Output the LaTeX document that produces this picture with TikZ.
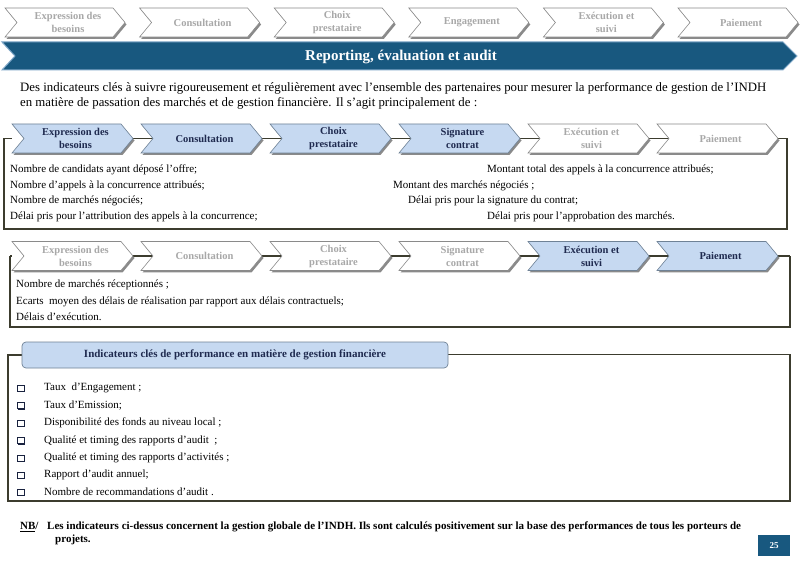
\documentclass[tikz,border=0pt]{standalone}
\usepackage{fontspec}
\setmainfont{Liberation Serif}
\definecolor{boxc}{HTML}{3C3C2E}
\definecolor{actfill}{HTML}{C6D9F1}
\definecolor{actdraw}{HTML}{6F8296}
\definecolor{acttext}{HTML}{1F2A4F}
\definecolor{inactdraw}{HTML}{8A8A8A}
\definecolor{inacttext}{HTML}{A8A8A8}
\definecolor{bannerc}{HTML}{18587F}
\definecolor{bannerline}{HTML}{7FA7C8}
\definecolor{shadowc}{HTML}{8A8A8A}
\newcommand\mychev[8]{%
  \fill[shadowc] ({#2+1.5},{#3+2}) -- ({#2+#4-12+1.5},{#3+2}) -- ({#2+#4+1.5},{#3+#5/2+2}) -- ({#2+#4-12+1.5},{#3+#5+2}) -- ({#2+1.5},{#3+#5+2}) -- ({#2+12+1.5},{#3+#5/2+2}) -- cycle;
  \draw[#6] (#2,#3) -- ({#2+#4-12},#3) -- ({#2+#4},{#3+#5/2}) -- ({#2+#4-12},{#3+#5}) -- (#2,{#3+#5}) -- ({#2+12},{#3+#5/2}) -- cycle;
  \coordinate (#1-in) at ({#2+12},{#3+#5/2});
  \coordinate (#1-out) at ({#2+#4},{#3+#5/2});
  \node[#8] (#1) at ({#2+#4/2+3},{#3+#5/2}) {#7};
}
\tikzset{
  chevact/.style={fill=actfill, draw=actdraw, line width=0.6pt},
  chevinact/.style={fill=white, draw=inactdraw, line width=0.6pt},
  tact/.style={align=center, inner sep=0pt, text=acttext, font=\fontsize{10.5}{13}\selectfont\bfseries},
  tinact/.style={align=center, inner sep=0pt, text=inacttext, font=\fontsize{10.5}{13}\selectfont\bfseries},
  boxline/.style={draw=boxc, line width=1.8pt},
  body/.style={anchor=west, inner sep=0pt, font=\fontsize{11}{13}\selectfont},
  para/.style={anchor=west, inner sep=0pt, font=\fontsize{12.8}{15}\selectfont},
  nbtext/.style={anchor=west, inner sep=0pt, font=\fontsize{11}{13}\selectfont\bfseries},
  bul/.style={draw=acttext!80!black, line width=0.7pt},
}
\begin{document}
\begin{tikzpicture}[x=1pt,y=-1pt]
\useasboundingbox (0,0) rectangle (800,561);
\fill[white] (0,0) rectangle (800,561);

% Row 1 chevrons
\mychev{a1}{5}{8}{120}{29}{chevinact}{Expression des\\besoins}{tinact}
\mychev{a2}{139.6}{8}{120}{29}{chevinact}{Consultation}{tinact}
\mychev{a3}{274.2}{8}{120}{29}{chevinact}{Choix\\prestataire}{tinact}
\mychev{a4}{408.8}{8}{120}{29}{chevinact}{Engagement}{tinact}
\mychev{a5}{543.4}{8}{120}{29}{chevinact}{Exécution et\\suivi}{tinact}
\mychev{a6}{678}{8}{120}{29}{chevinact}{Paiement}{tinact}

% Banner
\draw[fill=bannerc, draw=bannerline, line width=1pt] (2,42) -- (783,42) -- (797,56) -- (783,70) -- (2,70) -- (15,56) -- cycle;
\node[text=white, font=\fontsize{15}{17}\selectfont\bfseries, inner sep=0pt] (title) at (401,57) {Reporting, évaluation et audit};

% Paragraph
\node[para] (p1) at (20,88) {Des indicateurs clés à suivre rigoureusement et régulièrement avec l’ensemble des partenaires pour mesurer la performance de gestion de l’INDH};
\node[para] (p2) at (20,103) {en matière de passation des marchés et de gestion financière. Il s’agit principalement de :};

% Row 2 box
\coordinate (b2bl) at (4,229);
\coordinate (b2br) at (787,229);
\coordinate (b2tl) at (4,138.5);
\coordinate (b2tr) at (787,138.5);
\draw[boxline] (b2tl) -- (b2bl) -- (b2br) -- (b2tr);
\draw[boxline] (b2tl) -- (12,138.5);
\draw[boxline] (b2tr) -- (777,138.5);
\draw[boxline] (133,138.5) -- (153,138.5);
\draw[boxline] (262,138.5) -- (282,138.5);
\draw[boxline] (391,138.5) -- (411,138.5);
\draw[boxline] (520,138.5) -- (540,138.5);
\draw[boxline] (649,138.5) -- (669,138.5);

\mychev{b1}{12}{124}{121}{29}{chevact}{Expression des\\besoins}{tact}
\mychev{b2}{141}{124}{121}{29}{chevact}{Consultation}{tact}
\mychev{b3}{270}{124}{121}{29}{chevact}{Choix\\prestataire}{tact}
\mychev{b4}{399}{124}{121}{29}{chevact}{Signature\\contrat}{tact}
\mychev{b5}{528}{124}{121}{29}{chevinact}{Exécution et\\suivi}{tinact}
\mychev{b6}{657}{124}{121}{29}{chevinact}{Paiement}{tinact}

\node[body] (l1) at (10,170) {Nombre de candidats ayant déposé l'offre;};
\node[body] (l2) at (10,186) {Nombre d'appels à la concurrence attribués;};
\node[body] (l3) at (10,201) {Nombre de marchés négociés;};
\node[body] (l4) at (10,217) {Délai pris pour l’attribution des appels à la concurrence;};
\node[body] (r1) at (487,170) {Montant total des appels à la concurrence attribués;};
\node[body] (r2) at (393,186) {Montant des marchés négociés ;};
\node[body] (r3) at (408,201) {Délai pris pour la signature du contrat;};
\node[body] (r4) at (487,217) {Délai pris pour l'approbation des marchés.};

% Row 3 box
\coordinate (b3bl) at (10,327);
\coordinate (b3br) at (790,327);
\coordinate (b3tl) at (10,256);
\coordinate (b3tr) at (790,256);
\draw[boxline] (b3tl) -- (b3bl) -- (b3br) -- (b3tr);
\draw[boxline] (b3tl) -- (12,256);
\draw[boxline] (b3tr) -- (777,256);
\draw[boxline] (133,256) -- (153,256);
\draw[boxline] (262,256) -- (282,256);
\draw[boxline] (391,256) -- (411,256);
\draw[boxline] (520,256) -- (540,256);
\draw[boxline] (649,256) -- (669,256);

\mychev{c1}{12}{241.5}{121}{29}{chevinact}{Expression des\\besoins}{tinact}
\mychev{c2}{141}{241.5}{121}{29}{chevinact}{Consultation}{tinact}
\mychev{c3}{270}{241.5}{121}{29}{chevinact}{Choix\\prestataire}{tinact}
\mychev{c4}{399}{241.5}{121}{29}{chevinact}{Signature\\contrat}{tinact}
\mychev{c5}{528}{241.5}{121}{29}{chevact}{Exécution et\\suivi}{tact}
\mychev{c6}{657}{241.5}{121}{29}{chevact}{Paiement}{tact}

\node[body] (m1) at (16,285) {Nombre de marchés réceptionnés ;};
\node[body] (m2) at (16,302) {Ecarts \ moyen des délais de réalisation par rapport aux délais contractuels;};
\node[body] (m3) at (16,317) {Délais d'exécution.};

% KPI box
\coordinate (k1) at (8,355);
\coordinate (k2) at (8,501);
\coordinate (k3) at (790,501);
\coordinate (k4) at (790,354.5);
\draw[boxline] (22,355) -- (k1) -- (k2) -- (k3) -- (k4) -- (448,354.5);
\draw[fill=actfill, draw=actdraw, line width=0.7pt, rounded corners=4pt] (22,342) rectangle (448,368);
\node[inner sep=0pt, text=acttext, font=\fontsize{11}{13}\selectfont\bfseries] (khead) at (235,355) {Indicateurs clés de performance en matière de gestion financière};

\foreach \yy/\tx [count=\i] in {388/{Taux \ d’Engagement ;}, 405.5/{Taux d’Emission;}, 423/{Disponibilité des fonds au niveau local ;}, 440.5/{Qualité et timing des rapports d’audit \ ;}, 458/{Qualité et timing des rapports d’activités ;}, 475/{Rapport d’audit annuel;}, 492/{Nombre de recommandations d’audit .}} {
  \draw[bul] (17.5,{\yy-3}) rectangle (24,{\yy+3});
  \draw[draw=acttext!80!black, line width=1.2pt] (18.2,{\yy+3.6}) -- (24.6,{\yy+3.6}) -- (24.6,{\yy-2.4});
  \node[body] (kpi\i) at (44,\yy) {\tx};
}

% NB
\node[nbtext] (nb) at (20,527) {\underline{NB}/};
\node[nbtext] (nbt) at (47,527) {Les indicateurs ci-dessus concernent la gestion globale de l’INDH. Ils sont calculés positivement sur la base des performances de tous les porteurs de};
\node[nbtext] (nbt2) at (55,540) {projets.};

% Page number
\fill[bannerc] (758,535) rectangle (790,556);
\node[text=white, inner sep=0pt, font=\fontsize{9}{10}\selectfont\bfseries] (pg) at (774,545.5) {25};
\end{tikzpicture}
\end{document}
